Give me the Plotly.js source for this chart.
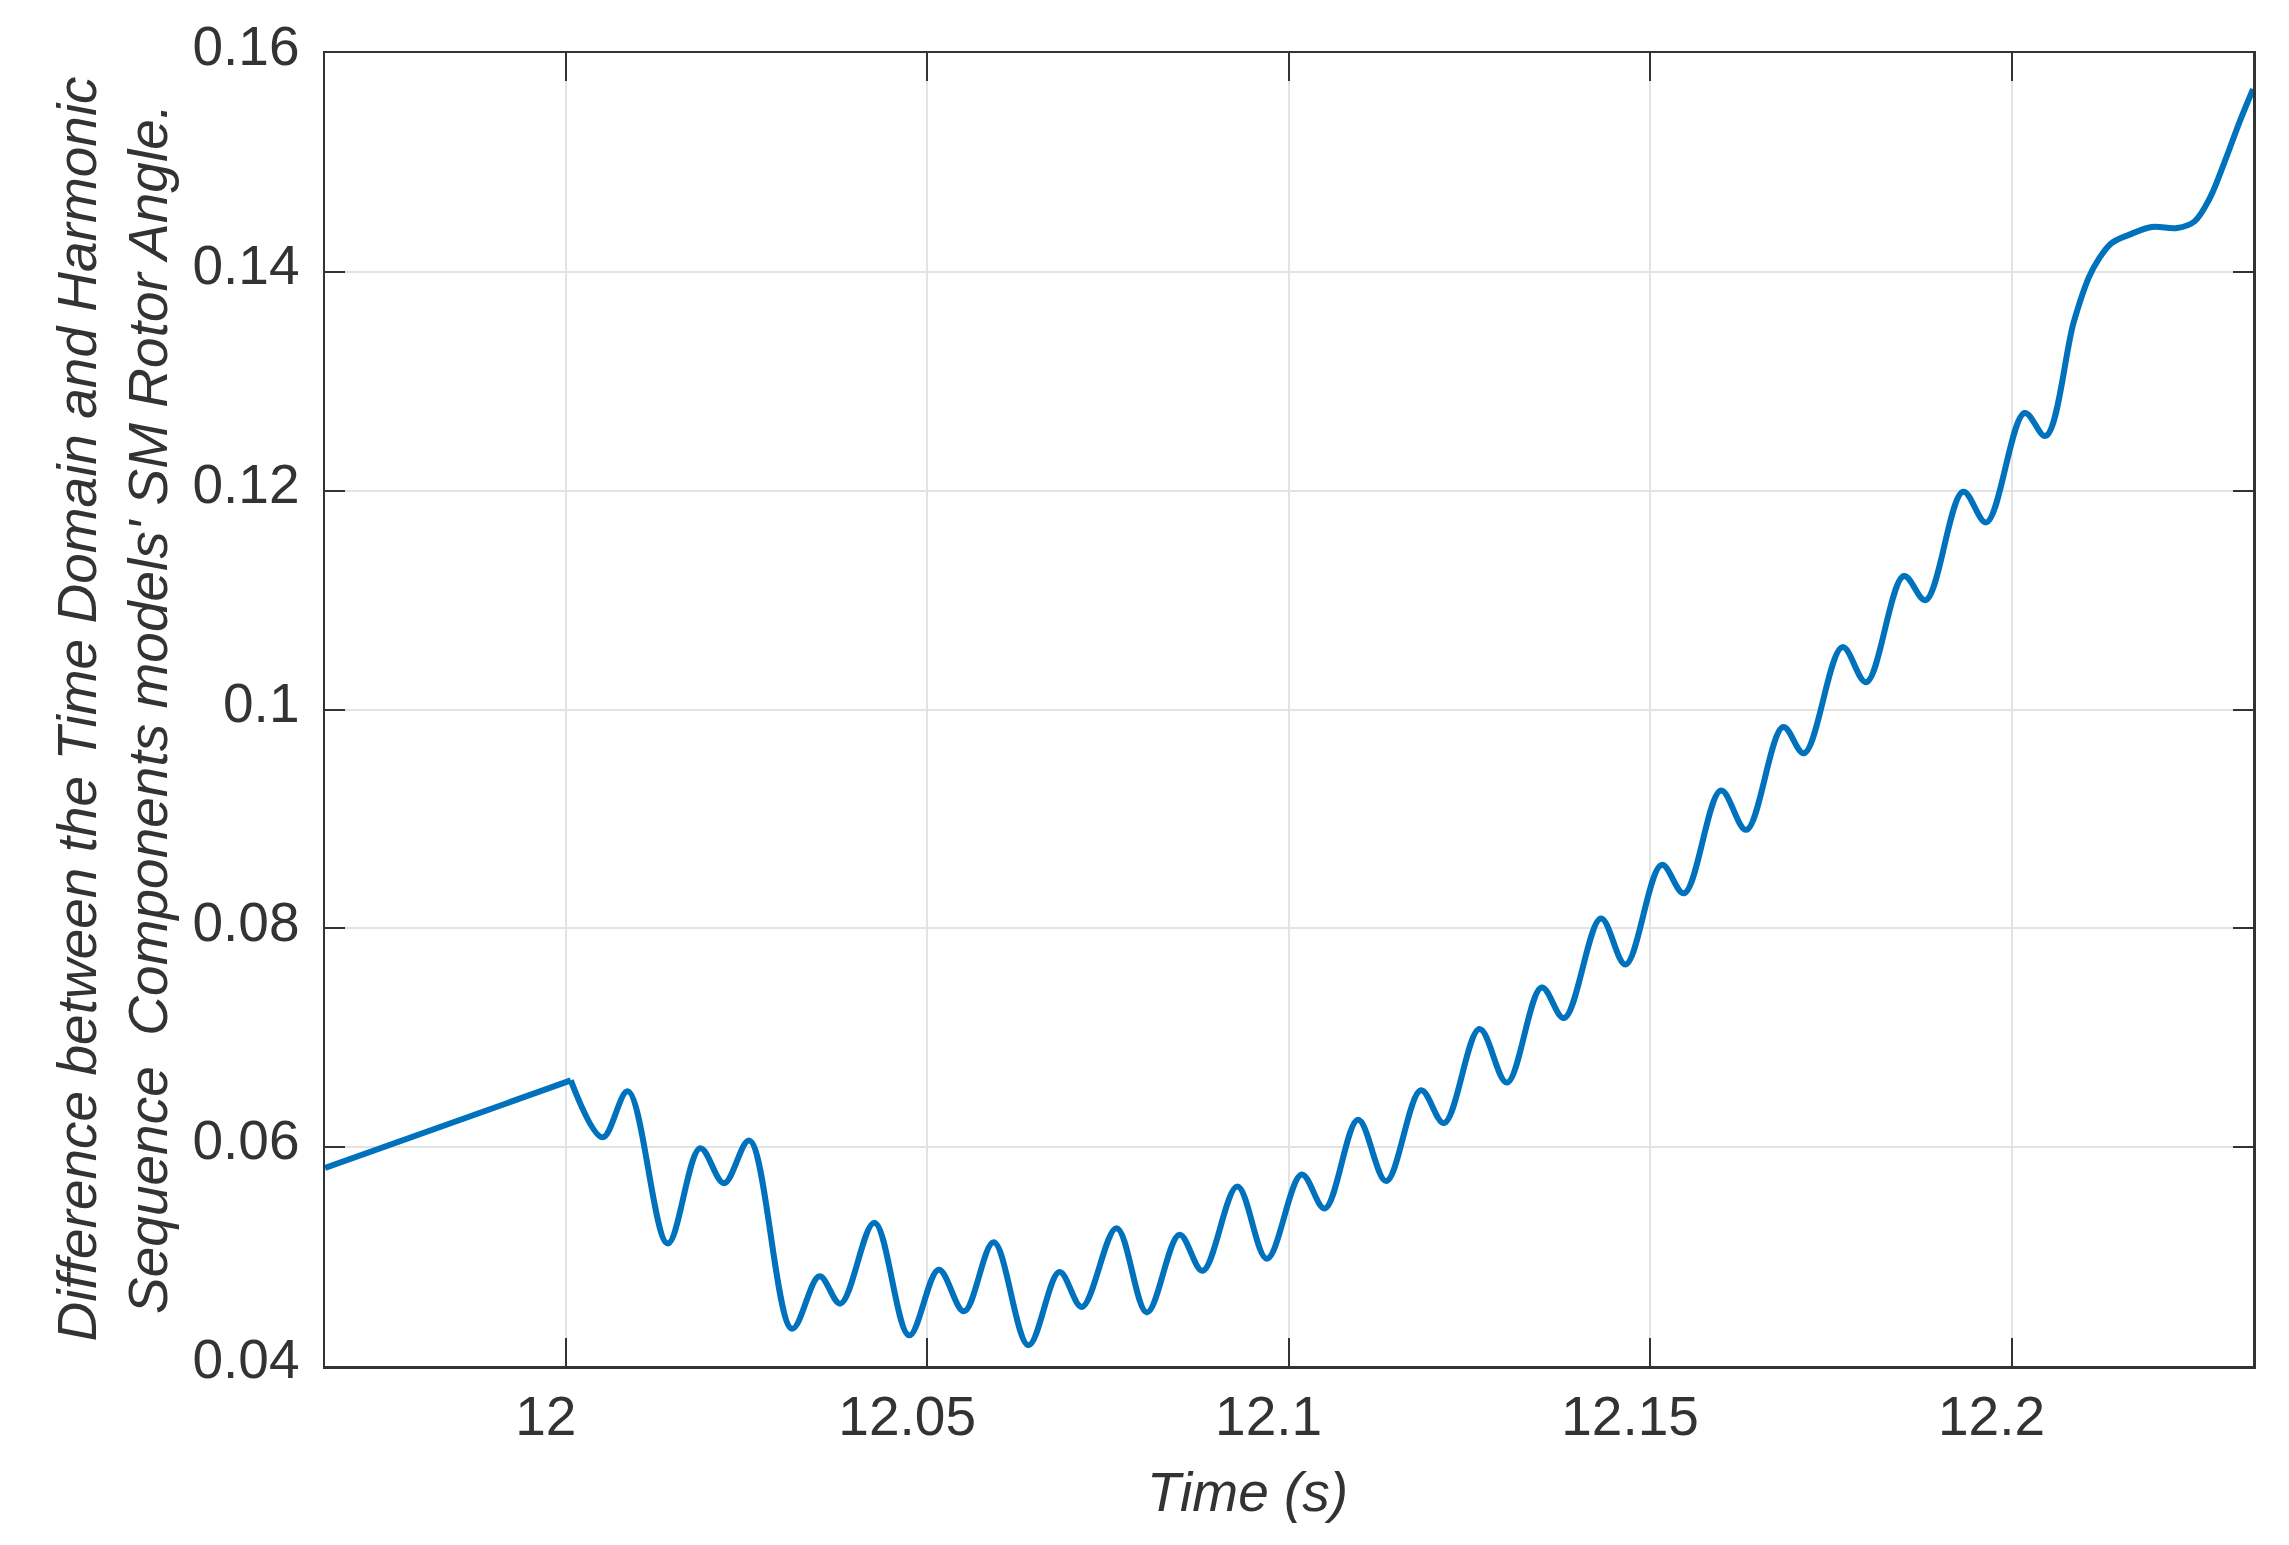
<!DOCTYPE html>
<html>
<head>
<meta charset="utf-8">
<script src="https://cdn.plot.ly/plotly-3.0.1.min.js"></script>
<style>html,body{margin:0;padding:0;background:#fff;}#chart{width:2289px;height:1545px;}</style>
</head>
<body>
<div id="chart"></div>
<script>
// Time (s)
const timeS = [11.9667, 11.9835, 12.0007, 12.0051, 12.0086, 12.0141, 12.0186, 12.0219, 12.0254, 12.0313,
  12.0351, 12.0380, 12.0427, 12.0475, 12.0516, 12.0551, 12.0592, 12.0640, 12.0683, 12.0714,
  12.0762, 12.0804, 12.0849, 12.0881, 12.0929, 12.0970, 12.1018, 12.1050, 12.1096, 12.1135,
  12.1183, 12.1215, 12.1264, 12.1302, 12.1350, 12.1381, 12.1432, 12.1466, 12.1516, 12.1547,
  12.1598, 12.1633, 12.1684, 12.1713, 12.1766, 12.1799, 12.1851, 12.1881, 12.1933, 12.1965,
  12.2018, 12.2047, 12.2086, 12.2107, 12.2121, 12.2138, 12.2163, 12.2194, 12.2229,
  12.2253, 12.2274, 12.2295, 12.2316, 12.2334];
// Difference in SM rotor angle
const angleDiff = [0.0581, 0.0621, 0.0661, 0.0609, 0.0651, 0.0512, 0.0599, 0.0567, 0.0606, 0.0434,
  0.0482, 0.0457, 0.0531, 0.0428, 0.0488, 0.0450, 0.0513, 0.0419, 0.0486, 0.0454,
  0.0526, 0.0449, 0.0520, 0.0487, 0.0564, 0.0498, 0.0575, 0.0544, 0.0625, 0.0569,
  0.0652, 0.0622, 0.0708, 0.0659, 0.0746, 0.0718, 0.0809, 0.0767, 0.0858, 0.0832,
  0.0926, 0.0890, 0.0984, 0.0960, 0.1057, 0.1025, 0.1122, 0.1100, 0.1199, 0.1171,
  0.1271, 0.1250, 0.1354, 0.1395, 0.1412, 0.1426, 0.1434, 0.1441, 0.1440,
  0.1446, 0.1467, 0.1501, 0.1538, 0.1567];
// index where the straight ramp ends and the oscillation begins
const rampEnd = 2;

const xTickVals = [12, 12.05, 12.1, 12.15, 12.2];
const xTickText = ['12', '12.05', '12.1', '12.15', '12.2'];
const yTickVals = [0.04, 0.06, 0.08, 0.1, 0.12, 0.14, 0.16];
const yTickText = ['0.04', '0.06', '0.08', '0.1', '0.12', '0.14', '0.16'];

const xTitle = 'Time (s)';
const yTitleLines = ['Difference between the Time Domain and Harmonic',
  'Sequence\u00a0 Components models\' SM Rotor Angle.'];

const FONT = 'Liberation Sans, Arial, Helvetica, sans-serif';
const AX = '#333333';
const LINE = {color: '#0072BD', width: 6};

const traces = [
  {x: timeS.slice(0, rampEnd + 1), y: angleDiff.slice(0, rampEnd + 1), type: 'scatter', mode: 'lines',
   line: Object.assign({shape: 'linear'}, LINE), hoverinfo: 'skip'},
  {x: timeS.slice(rampEnd), y: angleDiff.slice(rampEnd), type: 'scatter', mode: 'lines',
   line: Object.assign({shape: 'spline', smoothing: 1}, LINE), hoverinfo: 'skip'}
];

const axisCommon = {
  showline: true, linecolor: AX, linewidth: 2.5, mirror: 'ticks',
  ticks: 'inside', tickcolor: AX, tickwidth: 2,
  showgrid: true, gridcolor: '#e3e3e3', gridwidth: 2,
  zeroline: false, tickfont: {family: FONT, size: 55, color: AX},
  tickmode: 'array', fixedrange: true
};

const layout = {
  width: 2289, height: 1545,
  margin: {l: 325, r: 36, t: 53, b: 179, pad: 0},
  paper_bgcolor: '#ffffff', plot_bgcolor: '#ffffff',
  showlegend: false,
  xaxis: Object.assign({}, axisCommon, {
    range: [11.9667, 12.2334], tickvals: xTickVals, ticktext: xTickText, ticklen: 28,
    ticklabelshift: -20
  }),
  yaxis: Object.assign({}, axisCommon, {
    range: [0.04, 0.16], tickvals: yTickVals, ticktext: yTickText, ticklen: 20,
    ticklabelshift: -7, ticklabelstandoff: 12
  }),
  annotations: [
    {text: '<i>' + xTitle + '</i>', xref: 'paper', yref: 'paper', x: 0.4787, y: 0,
     xanchor: 'center', yanchor: 'middle', yshift: -126, showarrow: false,
     font: {family: FONT, size: 55, color: AX}},
    {text: '<i>' + yTitleLines.join('<br>') + '</i>', xref: 'paper', yref: 'paper', x: 0, y: 0.5,
     xanchor: 'center', yanchor: 'middle', xshift: -213, textangle: -90, showarrow: false,
     font: {family: FONT, size: 55, color: AX}}
  ]
};

Plotly.newPlot('chart', traces, layout, {displayModeBar: false, staticPlot: true});
</script>
</body>
</html>
